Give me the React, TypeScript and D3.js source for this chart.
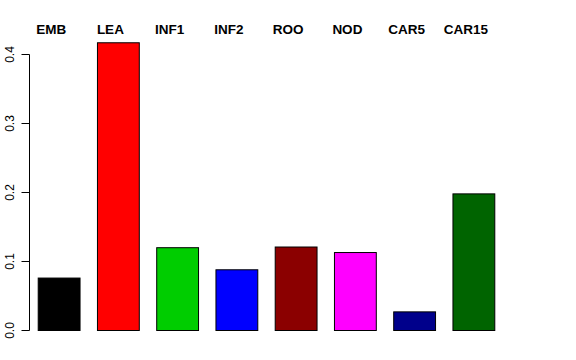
import React from "react";
import * as d3 from "d3";

const categories = ["EMB", "LEA", "INF1", "INF2", "ROO", "NOD", "CAR5", "CAR15"];
const values = [0.076, 0.417, 0.12, 0.088, 0.121, 0.113, 0.027, 0.198];
const colors = ["#000000", "#FF0000", "#00CD00", "#0000FF", "#8B0000", "#FF00FF", "#00008B", "#006400"];
const yTicks = [0, 0.1, 0.2, 0.3, 0.4];

export default function App() {
  const W = 576, H = 360;
  const x = d3.scaleBand<string>().domain(categories).range([29.5, 503.5]).paddingInner(0.294).paddingOuter(0.147);
  const y = d3.scaleLinear().domain([0, 0.4]).range([330.5, 54.5]);
  const axisX = 29.5;
  return (
    <svg width={W} height={H} style={{ position: "absolute", left: 0, top: 0, background: "#fff" }}>
      {categories.map((c, i) => (
        <rect key={c} x={x(c)!} y={y(values[i])} width={x.bandwidth()} height={y(0) - y(values[i])}
          fill={colors[i]} stroke="#000" strokeWidth={1} />
      ))}
      {categories.map((c) => (
        <text key={"l" + c} x={x(c)! + x.bandwidth() / 2 - 8} y={34} textAnchor="middle"
          fontFamily="Liberation Sans, Arial, sans-serif" fontWeight="bold" fontSize={13.5} fill="#000">{c}</text>
      ))}
      <line x1={axisX} x2={axisX} y1={y(0)} y2={y(0.4)} stroke="#000" strokeWidth={1} />
      {yTicks.map((t) => (
        <g key={t}>
          <line x1={axisX - 8} x2={axisX} y1={y(t)} y2={y(t)} stroke="#000" strokeWidth={1} />
          <text transform={`translate(13.5,${y(t)}) rotate(-90)`} textAnchor="middle"
            fontFamily="Liberation Sans, Arial, sans-serif" fontSize={12} fill="#000">{d3.format(".1f")(t)}</text>
        </g>
      ))}
    </svg>
  );
}
